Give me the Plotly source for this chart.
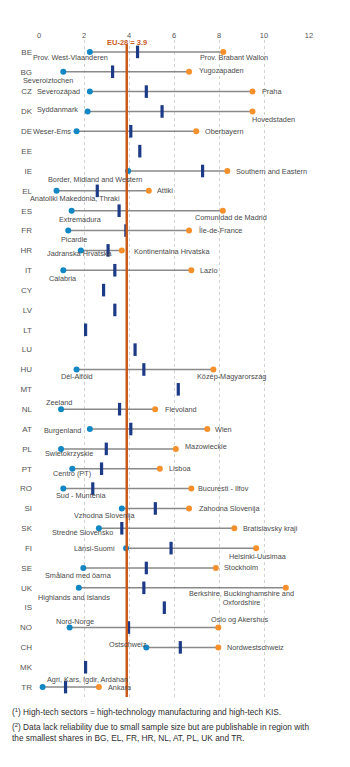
import plotly.graph_objects as go

countries = ["BE", "BG", "CZ", "DK", "DE", "EE", "IE", "EL", "ES", "FR", "HR", "IT", "CY", "LV", "LT", "LU",
             "HU", "MT", "NL", "AT", "PL", "PT", "RO", "SI", "SK", "FI", "SE", "UK", "IS", "NO", "CH", "MK", "TR"]
national = [4.38, 3.27, 4.77, 5.47, 4.08, 4.48, 7.27, 2.59, 3.56, 3.86, 3.07, 3.37, 2.87, 3.37, 2.07, 4.27,
            4.66, 6.19, 3.58, 4.08, 2.99, 2.78, 2.39, 5.17, 3.68, 5.87, 4.77, 4.66, 5.57, 3.98, 6.28, 2.07, 1.18]
low_vals = [2.26, 1.08, 2.26, 2.16, 1.67, None, 3.96, 0.78, 1.45, 1.30, 1.86, 1.08, None, None, None, None,
            1.67, None, 0.98, 2.26, 0.98, 1.48, 1.08, 3.68, 2.66, 3.87, 1.97, 1.77, None, 1.36, 4.77, None, 0.16]
high_vals = [8.19, 6.67, 9.49, 9.49, 6.99, None, 8.37, 4.88, 8.17, 6.67, 3.68, 6.77, None, None, None, None,
             7.75, None, 5.16, 7.48, 6.08, 5.37, 6.77, 6.67, 8.68, 9.65, 7.86, 10.97, None, 7.97, 7.97, None, 2.66]
low_names = ["Prov. West-Vlaanderen", "Severoiztochen", "Severozápad", "Syddanmark", "Weser-Ems", None,
             "Border, Midland and Western", "Anatoliki Makedonia, Thraki", "Extremadura", "Picardie",
             "Jadranska Hrvatska", "Calabria", None, None, None, None, "Dél-Alföld", None, "Zeeland",
             "Burgenland", "Swietokrzyskie", "Centro (PT)", "Sud - Muntenia", "Vzhodna Slovenija",
             "Stredné Slovensko", "Länsi-Suomi", "Småland med öarna", "Highlands and Islands", None,
             "Nord-Norge", "Ostschweiz", None, "Agri, Kars, Igdir, Ardahan"]
high_names = ["Prov. Brabant Wallon", "Yugozapaden", "Praha", "Hovedstaden", "Oberbayern", None,
              "Southern and Eastern", "Attiki", "Comunidad de Madrid", "Île-de-France", "Kontinentalna Hrvatska",
              "Lazio", None, None, None, None, "Közép-Magyarország", None, "Flevoland", "Wien", "Mazowieckie",
              "Lisboa", "Bucuresti - Ilfov", "Zahodna Slovenija", "Bratislavsky kraji", "Helsinki-Uusimaa",
              "Stockholm", "Berkshire, Buckinghamshire and<br>Oxfordshire", None, "Oslo og Akershus",
              "Nordwestschweiz", None, "Ankara"]
eu_value = 3.9
eu_label = "EU-28 = 3.9"
x_ticks = [0, 2, 4, 6, 8, 10, 12]

# label placement styles: (xanchor, xshift px, yshift px)
low_pos = [("center", -19, -6), ("center", -15, -8.5), ("right", -8, 0), ("right", -8, 1.5), ("right", -4, 0), None,
           ("center", -33, -8), ("center", 18, -7.5), ("center", 9, -8.5), ("center", 6, -8.5),
           ("center", -1, -3.5), ("center", 0, -8), None, None, None, None, ("center", 0, -7), None,
           ("center", -2.5, 7), ("right", -7, -1), ("center", 7.5, -5), ("center", 0, -5), ("center", 18, -7),
           ("center", -17, -7.5), ("center", -16, -4), ("right", -9, 0), ("center", -5, -7.5),
           ("center", -4.5, -10), None, ("center", 5, 6), ("right", 3, 2.5), None, ("center", 45, 8)]
high_pos = [("center", 11, -6), ("left", 7.5, 1), ("left", 7, 0), ("center", 20.5, -8), ("left", 7, 0), None,
            ("left", 7, 0), ("left", 6, 0), ("center", 8, -6.5), ("left", 7, 0), ("left", 10, -1),
            ("left", 7, 0), None, None, None, None, ("center", 18, -7.5), None, ("left", 8, 0), ("left", 6, 0),
            ("left", 7, 2), ("left", 7, 0), ("left", 4.5, 0), ("left", 8, 0), ("left", 7, 0),
            ("center", 2, -8), ("left", 6, 0), ("center", -44, -10), None, ("center", 22, 8),
            ("left", 7, 0), None, ("left", 7, 0)]

BLUE = "#1287c3"
ORANGE = "#f6902c"
NAVY = "#1d3a86"
EUC = "#c85a1c"
TXT = "#4a4a4a"
FONT = "Liberation Sans, Arial, sans-serif"

fig = go.Figure()

cx, cy = [], []
for c, lo, hi in zip(countries, low_vals, high_vals):
    if lo is not None and hi is not None:
        cx += [lo, hi, None]
        cy += [c, c, None]
fig.add_trace(go.Scatter(x=cx, y=cy, mode="lines", line=dict(color="#8a8a8a", width=1.5),
                         hoverinfo="skip", showlegend=False))

fig.add_shape(type="line", xref="x", yref="paper", x0=eu_value, x1=eu_value, y0=0, y1=0.9936,
              line=dict(color=EUC, width=2.5), layer="above")

lx = [v for v in low_vals if v is not None]
ly = [c for c, v in zip(countries, low_vals) if v is not None]
hx = [v for v in high_vals if v is not None]
hy = [c for c, v in zip(countries, high_vals) if v is not None]

fig.add_trace(go.Scatter(x=lx, y=ly, mode="markers", marker=dict(color=BLUE, size=6),
                         cliponaxis=False, showlegend=False))
fig.add_trace(go.Scatter(x=hx, y=hy, mode="markers", marker=dict(color=ORANGE, size=6),
                         cliponaxis=False, showlegend=False))
fig.add_trace(go.Scatter(x=national, y=countries, mode="markers",
                         marker=dict(symbol="line-ns", size=9, line=dict(color=NAVY, width=3.2)),
                         cliponaxis=False, showlegend=False))

anns = []
for vals, names, pos in [(low_vals, low_names, low_pos), (high_vals, high_names, high_pos)]:
    for country, v, n, p in zip(countries, vals, names, pos):
        if v is None or n is None:
            continue
        xa, dx, dy = p
        anns.append(dict(x=v, y=country, xref="x", yref="y", text=n, showarrow=False,
                         xanchor=xa, yanchor="middle", xshift=dx, yshift=dy,
                         font=dict(family=FONT, size=7.3, color=TXT), align="center"))

anns.append(dict(x=eu_value, y=1.0, xref="x", yref="paper", text="<b>" + eu_label + "</b>",
                 showarrow=False, xanchor="center", yanchor="middle", yshift=-2,
                 font=dict(family=FONT, size=7.5, color=EUC)))

plot_w = 350 - 39 - 41
plot_h = 767 - 40 - 70
fx = (10 - 39) / plot_w
anns.append(dict(x=fx, y=-(712.3 - 697) / plot_h, xref="paper", yref="paper",
                 text="(<sup>1</sup>) High-tech sectors = high-technology manufacturing and high-tech KIS.",
                 showarrow=False, xanchor="left", yanchor="middle", align="left",
                 font=dict(family=FONT, size=8.3, color="#2e2e2e")))
anns.append(dict(x=fx, y=-(732.5 - 697) / plot_h, xref="paper", yref="paper",
                 text="(<sup>2</sup>) Data lack reliability due to small sample size but are publishable in region with<br>"
                      "the smallest shares in BG, EL, FR, HR, NL, AT, PL, UK and TR.",
                 showarrow=False, xanchor="left", yanchor="middle", align="left",
                 font=dict(family=FONT, size=8.3, color="#2e2e2e")))

fig.update_layout(
    width=350, height=767,
    margin=dict(l=39, r=41, t=40, b=70),
    paper_bgcolor="white", plot_bgcolor="white",
    showlegend=False,
    annotations=anns,
    font=dict(family=FONT, color=TXT),
    xaxis=dict(side="top", range=[0, 12], tickvals=x_ticks, showgrid=True, gridcolor="#d2d2d2",
               griddash="dot", gridwidth=1, zeroline=False, showline=False, ticks="",
               tickfont=dict(size=7.5, color="#555555", family=FONT), fixedrange=True),
    yaxis=dict(type="category", categoryorder="array", categoryarray=countries, range=[32.5, -0.6],
               showgrid=False, zeroline=False, showline=False, ticks="", ticklabelstandoff=6,
               tickfont=dict(size=8, color="#555555", family=FONT), fixedrange=True),
)

fig.write_html("out.html")
